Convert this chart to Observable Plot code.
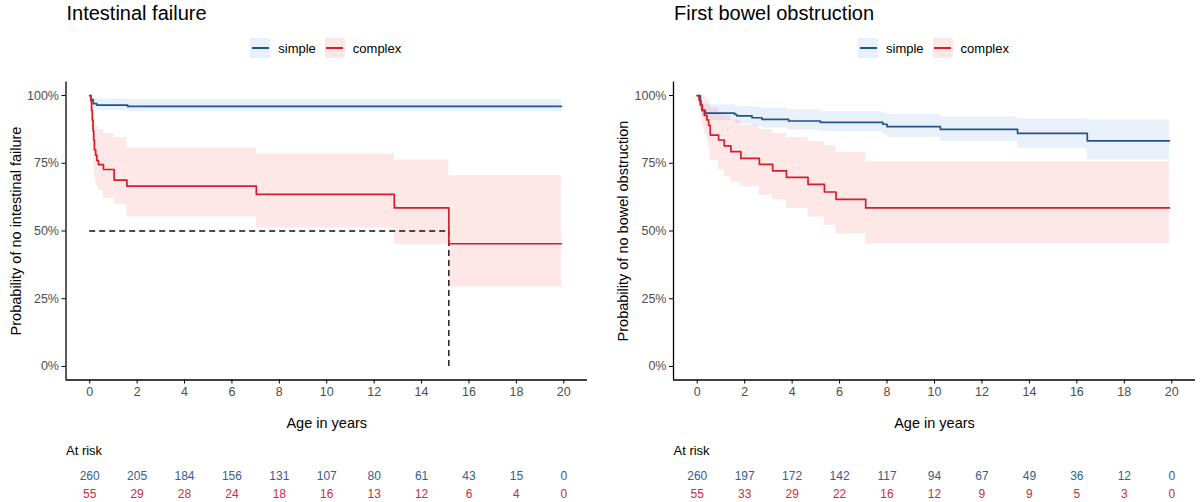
<!DOCTYPE html>
<html>
<head>
<meta charset="utf-8">
<script src="https://cdn.jsdelivr.net/npm/d3@7"></script>
<script src="https://cdn.jsdelivr.net/npm/@observablehq/plot@0.6"></script>
<style>
  html, body { margin: 0; padding: 0; background: #fff; }
  #root { position: relative; width: 1200px; height: 502px; overflow: hidden; background: #fff;
          font-family: "Liberation Sans", Arial, Helvetica, sans-serif; }
  .title { position: absolute; top: 3px; font-size: 20px; line-height: 20px; color: #000; white-space: nowrap; }
  .legend { position: absolute; top: 38px; height: 20px; width: 400px; display: flex; justify-content: center;
            align-items: center; font-size: 13px; color: #000; }
  .key { position: relative; width: 20px; height: 20px; margin-right: 8px; }
  .key .ln { position: absolute; left: 1.5px; width: 17px; top: 9px; height: 1.6px; }
  .lab { margin-right: 9px; }
  .panel { position: absolute; top: 70px; }
</style>
</head>
<body>
<div id="root"></div>
<script>
// ---------- shared ----------
const groups = ["simple", "complex"];
const xTicks = [0, 2, 4, 6, 8, 10, 12, 14, 16, 18, 20];
const yTicks = [0, 0.25, 0.5, 0.75, 1];
const riskTimes = [0, 2, 4, 6, 8, 10, 12, 14, 16, 18, 20];

// ---------- Panel 1: Intestinal failure ----------
const ifTitle = "Intestinal failure";
const ifYLabel = "Probability of no intestinal failure";
const ifSimpleT  = [0, 0.05, 0.15, 0.3, 1.6, 19.9];
const ifSimpleS  = [1, 0.985, 0.97, 0.965, 0.96, 0.96];
const ifSimpleLo = [1, 0.97, 0.95, 0.945, 0.94, 0.94];
const ifSimpleHi = [1, 1.0, 0.99, 0.987, 0.985, 0.985];
const ifComplexT  = [0, 0.05, 0.08, 0.11, 0.14, 0.17, 0.2, 0.25, 0.3, 0.37, 0.58, 1.03, 1.57, 7.03, 12.85, 15.15, 19.9];
const ifComplexS  = [1, 0.98, 0.945, 0.91, 0.87, 0.835, 0.8, 0.78, 0.76, 0.745, 0.727, 0.688, 0.666, 0.635, 0.585, 0.453, 0.453];
const ifComplexLo = [1, 0.94, 0.89, 0.84, 0.79, 0.745, 0.7, 0.68, 0.665, 0.65, 0.62, 0.6, 0.552, 0.511, 0.45, 0.293, 0.293];
const ifComplexHi = [1, 1, 1, 0.98, 0.955, 0.93, 0.91, 0.895, 0.885, 0.875, 0.86, 0.845, 0.805, 0.784, 0.762, 0.704, 0.704];
const ifMedianT = [15.15];
const ifMedianS = [0.5];
const ifRiskSimple  = [260, 205, 184, 156, 131, 107, 80, 61, 43, 15, 0];
const ifRiskComplex = [55, 29, 28, 24, 18, 16, 13, 12, 6, 4, 0];

// ---------- Panel 2: First bowel obstruction ----------
const boTitle = "First bowel obstruction";
const boYLabel = "Probability of no bowel obstruction";
const boSimpleT  = [0, 0.13, 0.2, 0.34, 1.58, 1.67, 2.31, 2.73, 3.85, 5.19, 7.82, 8.0, 10.25, 13.5, 16.44, 19.9];
const boSimpleS  = [1, 0.966, 0.945, 0.935, 0.93, 0.925, 0.918, 0.912, 0.906, 0.901, 0.894, 0.885, 0.875, 0.86, 0.833, 0.833];
const boSimpleLo = [1, 0.945, 0.92, 0.908, 0.9, 0.895, 0.887, 0.88, 0.872, 0.866, 0.856, 0.845, 0.83, 0.805, 0.762, 0.762];
const boSimpleHi = [1, 0.99, 0.972, 0.966, 0.963, 0.96, 0.957, 0.953, 0.948, 0.94, 0.935, 0.931, 0.922, 0.914, 0.91, 0.91];
const boComplexT  = [0, 0.08, 0.16, 0.22, 0.3, 0.41, 0.48, 0.55, 0.9, 1.14, 1.42, 1.84, 2.62, 3.18, 3.76, 4.67, 5.36, 5.85, 7.1, 19.9];
const boComplexS  = [1, 0.982, 0.964, 0.945, 0.927, 0.91, 0.89, 0.854, 0.836, 0.814, 0.793, 0.768, 0.746, 0.722, 0.698, 0.672, 0.644, 0.617, 0.585, 0.585];
const boComplexLo = [1, 0.95, 0.915, 0.885, 0.86, 0.835, 0.805, 0.762, 0.725, 0.7, 0.68, 0.663, 0.632, 0.614, 0.583, 0.552, 0.521, 0.488, 0.453, 0.453];
const boComplexHi = [1, 1, 1, 1, 0.995, 0.985, 0.975, 0.955, 0.94, 0.925, 0.91, 0.89, 0.875, 0.86, 0.845, 0.83, 0.815, 0.79, 0.756, 0.756];
const boRiskSimple  = [260, 197, 172, 142, 117, 94, 67, 49, 36, 12, 0];
const boRiskComplex = [55, 33, 29, 22, 16, 12, 9, 9, 5, 3, 0];

// ---------- style ----------
const lineColor = {simple: "#24528A", complex: "#D21F2B"};
const bandColor = {simple: "rgba(120,165,225,0.17)", complex: "rgba(245,120,120,0.18)"};
const riskColor = {simple: "#345E90", complex: "#CC2D38"};

function curve(T, S, Lo, Hi) {
  return T.map((t, i) => ({t, s: S[i], lo: Lo[i], hi: Hi[i]}));
}

function makePanel(cfg) {
  const root = document.getElementById("root");
  const frameL = cfg.left + cfg.marginLeft;
  const frameR = cfg.left + 600 - cfg.marginRight;

  const title = document.createElement("div");
  title.className = "title";
  title.style.left = (frameL + 1) + "px";
  title.textContent = cfg.title;
  root.appendChild(title);

  const leg = document.createElement("div");
  leg.className = "legend";
  leg.style.left = ((frameL + frameR) / 2 + 4 - 200) + "px";
  groups.forEach(g => {
    const k = document.createElement("div");
    k.className = "key";
    k.style.background = bandColor[g];
    const ln = document.createElement("div");
    ln.className = "ln";
    ln.style.background = lineColor[g];
    k.appendChild(ln);
    const l = document.createElement("span");
    l.className = "lab";
    l.textContent = g;
    leg.appendChild(k);
    leg.appendChild(l);
  });
  root.appendChild(leg);

  const simple = curve(...cfg.simple);
  const complex = curve(...cfg.complex);
  const riskS = riskTimes.map((t, i) => ({t, n: cfg.riskSimple[i]}));
  const riskC = riskTimes.map((t, i) => ({t, n: cfg.riskComplex[i]}));

  const marks = [
    Plot.areaY(simple, {x: "t", y1: "lo", y2: "hi", curve: "step-after", fill: bandColor.simple}),
    Plot.areaY(complex, {x: "t", y1: "lo", y2: "hi", curve: "step-after", fill: bandColor.complex})
  ];
  if (cfg.medianT) {
    marks.push(
      Plot.ruleY(cfg.medianS, {x1: 0, x2: cfg.medianT[0], stroke: "#111", strokeWidth: 1.4, strokeDasharray: "6,4"}),
      Plot.ruleX(cfg.medianT, {y1: 0, y2: cfg.medianS[0], stroke: "#111", strokeWidth: 1.4, strokeDasharray: "6,4"})
    );
  }
  marks.push(
    Plot.line(simple, {x: "t", y: "s", curve: "step-after", stroke: lineColor.simple, strokeWidth: 1.7}),
    Plot.line(complex, {x: "t", y: "s", curve: "step-after", stroke: lineColor.complex, strokeWidth: 1.7}),
    Plot.ruleX([-1], {y1: -0.05, y2: 1.05, stroke: "#000", strokeWidth: 1.3}),
    Plot.ruleY([-0.05], {x1: -1, x2: 21, stroke: "#000", strokeWidth: 1.3}),
    Plot.axisX({anchor: "bottom", ticks: xTicks, tickSize: 4, tickPadding: 3, fontSize: 12.5,
                fill: "#4d4d4d", stroke: "#000", label: null, tickFormat: d => String(d)}),
    Plot.axisY({anchor: "left", ticks: yTicks, tickSize: 4, tickPadding: 3, fontSize: 12.5,
                fill: "#4d4d4d", stroke: "#000", label: null, tickFormat: d => Math.round(d * 100) + "%"}),
    Plot.text([cfg.yLabel], {text: d => d, frameAnchor: "left", textAnchor: "middle", rotate: -90, dx: -50,
                             fontSize: 14.5, fill: "#000", lineAnchor: "middle"}),
    Plot.text(["Age in years"], {text: d => d, frameAnchor: "bottom", textAnchor: "middle", dy: 43.5,
                                 fontSize: 14.5, fill: "#000", lineAnchor: "middle"}),
    Plot.text(["At risk"], {text: d => d, frameAnchor: "bottom-left", textAnchor: "start", dy: 71,
                            fontSize: 13, fill: "#000", lineAnchor: "middle"}),
    Plot.text(riskS, {x: "t", text: d => String(d.n), frameAnchor: "bottom", textAnchor: "middle", dy: 96.5,
                      fontSize: 12, fill: riskColor.simple, lineAnchor: "middle"}),
    Plot.text(riskC, {x: "t", text: d => String(d.n), frameAnchor: "bottom", textAnchor: "middle", dy: 114.5,
                      fontSize: 12, fill: riskColor.complex, lineAnchor: "middle"})
  );

  const svg = Plot.plot({
    width: 600,
    height: 432,
    marginLeft: cfg.marginLeft,
    marginRight: cfg.marginRight,
    marginTop: 11.5,
    marginBottom: 122.5,
    x: {domain: [-1, 21], axis: null},
    y: {domain: [-0.05, 1.05], axis: null},
    style: {fontFamily: "'Liberation Sans', Arial, Helvetica, sans-serif", background: "transparent", overflow: "visible"},
    marks
  });
  const wrap = document.createElement("div");
  wrap.className = "panel";
  wrap.style.left = cfg.left + "px";
  wrap.appendChild(svg);
  root.appendChild(wrap);
}

makePanel({
  left: 0, marginLeft: 65.5, marginRight: 13,
  title: ifTitle, yLabel: ifYLabel,
  simple: [ifSimpleT, ifSimpleS, ifSimpleLo, ifSimpleHi],
  complex: [ifComplexT, ifComplexS, ifComplexLo, ifComplexHi],
  medianT: ifMedianT, medianS: ifMedianS,
  riskSimple: ifRiskSimple, riskComplex: ifRiskComplex
});
makePanel({
  left: 600, marginLeft: 73, marginRight: 5,
  title: boTitle, yLabel: boYLabel,
  simple: [boSimpleT, boSimpleS, boSimpleLo, boSimpleHi],
  complex: [boComplexT, boComplexS, boComplexLo, boComplexHi],
  riskSimple: boRiskSimple, riskComplex: boRiskComplex
});
</script>
</body>
</html>
